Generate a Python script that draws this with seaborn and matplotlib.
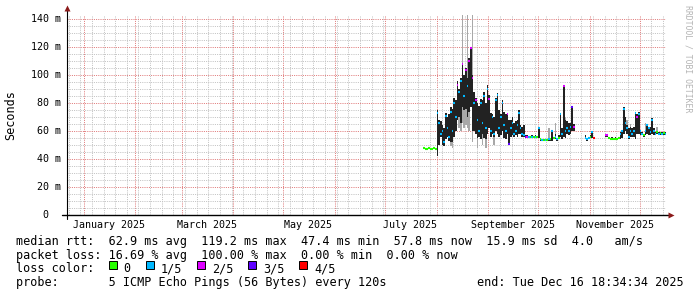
import numpy as np
import pandas as pd
import matplotlib
matplotlib.use('Agg')
import matplotlib.pyplot as plt
import matplotlib.dates as mdates
import matplotlib.transforms as mtrans
from matplotlib.ticker import MultipleLocator
from matplotlib.patches import Rectangle
import seaborn as sns

nan = float('nan')

# ---------------- data (daily, from 2025-07-24) ----------------
data_start = '2025-07-24'
graph_end = '2025-12-16 18:34:34'
graph_days = 360

median_ms = [47.6, 47.4, 47.5, 47.6, 47.4, 47.5, 47.6, 47.5,
             73, 66, 58, 60, 52, 71, 62, 56, 74, 60,
             80, 70, 93, 88, 96, 108, 85, 104, 92, 110,
             119.2, 98, 80, 82, 68, 60, 80, 66, 85, 62,
             90, 83, 60, 70, 58, 82, 86, 62, 70, 80,
             64, 60, 72, 51, 62, 66, 58, 60, 64, 73,
             62, 58, 57, 56, 56, 55.5, 55.5, 56, 55.5, 56,
             55.5, 62, 54, 53.6, 53.6, 53.8, 53.6, 54, 54, 60,
             55, 56, 54, 55, 72, 58, 92, 60, 62, 60,
             63, 77, 63,
             nan, nan, nan, nan, nan, nan,
             55, 54, 55, 56, 59, 55,
             nan, nan, nan, nan, nan, nan,
             57, 57, 55, 54, 54.5, 54, 54.5, 54, 55, 58,
             60, 76, 66, 62, 56, 60, 58, 60, 73, 70,
             72, 60, 58, 57, 60, 64, 62, 59, 68, 60,
             58, 59, 58, 58.5, 58, 58.5, 57.8]

loss = [0, 0, 0, 0, 0, 0, 0, 0,
        1, 1, 1, 1, 1, 1, 1, 1, 1, 1,
        1, 1, 2, 1, 1, 2, 1, 2, 1, 2,
        2, 2, 1, 2, 1, 1, 1, 1, 1, 1,
        1, 2, 1, 1, 1, 1, 1, 1, 1, 1,
        1, 1, 2, 3, 1, 1, 1, 1, 1, 1,
        1, 1, 1, 3, 2, 1, 0, 1, 0, 1,
        0, 1, 0, 1, 0, 1, 0, 1, 0, 1,
        0, 1, 1, 0, 1, 1, 2, 1, 1, 1,
        1, 3, 2,
        nan, nan, nan, nan, nan, nan,
        1, 1, 1, 0, 1, 4,
        nan, nan, nan, nan, nan, nan,
        2, 2, 0, 0, 0, 0, 0, 0, 0, 1,
        1, 1, 1, 1, 1, 1, 1, 1, 1, 2,
        1, 1, 1, 0, 1, 1, 1, 1, 1, 1,
        1, 0, 1, 0, 1, 0, 1]

smoke_lo = [47, 47, 47, 47, 47, 47, 47, 47,
            42, 50, 56, 50, 49, 54, 56, 53, 52, 52,
            56, 60, 68, 70, 66, 77, 75, 76, 70, 74,
            77, 60, 60, 58, 55, 56, 54, 58, 55, 54,
            58, 62, 56, 58, 56, 60, 58, 56, 57, 60,
            55, 54, 58, 50, 56, 57, 56, 57, 56, 58,
            58, 56, 56, 55, 55, 55, 55, 55, 55, 55,
            55, 55, 53, 53, 53, 53, 53, 53, 53, 53,
            54, 54, 53, 54, 56, 54, 56, 55, 58, 57,
            58, 60, 60,
            nan, nan, nan, nan, nan, nan,
            54, 53, 54, 55, 55, 54,
            nan, nan, nan, nan, nan, nan,
            56, 56, 54, 53.5, 53.5, 53.5, 53.5, 53.5, 54, 54,
            55, 58, 60, 58, 54, 56, 56, 56, 54, 58,
            58, 57, 57, 56, 57, 58, 57, 57, 58, 57,
            57, 58, 57, 57.5, 57, 57.5, 57]

smoke_hi = [48, 48, 48, 48, 48, 48, 48, 48,
            75, 68, 67, 64, 62, 73, 70, 72, 77, 76,
            84, 82, 96, 90, 98, 109, 100, 105, 98, 112,
            120, 100, 88, 84, 80, 78, 83, 82, 88, 80,
            93, 86, 73, 72, 70, 84, 87, 75, 72, 82,
            74, 72, 73, 68, 68, 70, 66, 67, 68, 75,
            64, 63, 64, 57, 57, 56.5, 56.5, 57, 56.5, 57,
            56.5, 62.5, 55, 54.5, 54.5, 54.5, 54.5, 55, 55, 61,
            56, 58, 55, 57, 73, 62, 93, 68, 67, 66,
            66, 78, 65,
            nan, nan, nan, nan, nan, nan,
            57, 55, 56, 57, 60, 56,
            nan, nan, nan, nan, nan, nan,
            58, 58, 56, 55, 55.5, 55, 55.5, 55, 56, 59,
            61, 77, 70, 64, 62, 63, 62, 63, 74, 72,
            74, 61, 59, 58, 61, 65, 63, 63, 69, 62,
            59, 60, 59, 59.5, 59, 59.5, 59]

outer_lo = [47, 47, 47, 47, 47, 47, 47, 47,
            42, 50, 56, 50, 49, 54, 56, 53, 49, 48,
            56, 60, 68, 62, 60, 66, 62, 64, 62, 60,
            77, 52, 60, 58, 48, 56, 54, 50, 55, 48,
            58, 62, 56, 58, 50, 60, 58, 56, 57, 60,
            55, 54, 58, 50, 56, 57, 56, 57, 56, 58,
            58, 56, 56, 55, 55, 55, 55, 55, 55, 55,
            55, 55, 53, 53, 53, 53, 53, 53, 53, 53,
            54, 54, 53, 54, 56, 54, 56, 55, 58, 57,
            58, 60, 60,
            nan, nan, nan, nan, nan, nan,
            54, 53, 54, 55, 55, 54,
            nan, nan, nan, nan, nan, nan,
            56, 56, 54, 53.5, 53.5, 53.5, 53.5, 53.5, 54, 54,
            55, 58, 60, 58, 54, 56, 56, 56, 54, 58,
            58, 57, 57, 56, 57, 58, 57, 57, 58, 57,
            57, 58, 57, 57.5, 57, 57.5, 57]

outer_hi = [48, 48, 48, 48, 48, 48, 48, 48,
            75, 68, 67, 64, 62, 73, 70, 72, 77, 76,
            84, 82, 96, 90, 98, 150, 100, 105, 150, 112,
            120, 150, 88, 84, 80, 78, 83, 82, 88, 80,
            93, 86, 73, 72, 70, 84, 87, 75, 72, 82,
            74, 72, 73, 68, 68, 70, 66, 67, 68, 75,
            64, 63, 64, 57, 57, 56.5, 56.5, 57, 56.5, 57,
            56.5, 62.5, 55, 54.5, 54.5, 54.5, 54.5, 62, 55, 61,
            56, 66, 55, 57, 73, 62, 93, 70, 67, 66,
            66, 78, 65,
            nan, nan, nan, nan, nan, nan,
            57, 55, 56, 57, 60, 56,
            nan, nan, nan, nan, nan, nan,
            58, 58, 56, 55, 55.5, 55, 55.5, 55, 56, 59,
            61, 77, 70, 68, 62, 65, 62, 63, 74, 72,
            74, 61, 59, 58, 66, 65, 63, 63, 69, 62,
            59, 63, 59, 59.5, 59, 59.5, 59]

loss_labels = ['0', '1/5', '2/5', '3/5', '4/5']
loss_colors = ['#26ff00', '#00b8ff', '#dd00ff', '#5e00ff', '#ff0000']

y_ticks = [0, 20, 40, 60, 80, 100, 120, 140]
x_labels = ['January 2025', 'March 2025', 'May 2025', 'July 2025',
            'September 2025', 'November 2025']
x_label_dates = ['2025-01-16', '2025-03-16', '2025-05-16', '2025-07-16',
                 '2025-09-16', '2025-11-16']

legend_lines = [
    'median rtt:  62.9 ms avg  119.2 ms max  47.4 ms min  57.8 ms now  15.9 ms sd  4.0   am/s',
    'packet loss: 16.69 % avg  100.00 % max  0.00 % min  0.00 % now',
    'loss color:',
    'probe:       5 ICMP Echo Pings (56 Bytes) every 120s',
]
end_text = 'end: Tue Dec 16 18:34:34 2025'
y_title = 'Seconds'
watermark = 'RRDTOOL / TOBI OETIKER'

# ---------------- figure ----------------
sns.set_theme(style='white')
plt.rcParams['font.family'] = ['DejaVu Sans Mono', 'DejaVu Sans']

W, H = 697, 297
fig = plt.figure(figsize=(W / 100, H / 100), dpi=100)
fig.patch.set_facecolor('white')
L, R, T, B = 66.5, 666, 15, 215
ax = fig.add_axes([L / W, 1 - B / H, (R - L) / W, (B - T) / H])
ax.set_facecolor('white')

end = pd.Timestamp(graph_end)
start = end - pd.Timedelta(days=graph_days)

days = pd.date_range(data_start, periods=len(median_ms) + 1, freq='D')


def steps(vals):
    xs, ys = [], []
    for i, v in enumerate(vals):
        xs += [days[i], days[i + 1]]
        ys += [v, v]
    return mdates.date2num(xs), np.array(ys, float)


xs, olo = steps(outer_lo)
_, ohi = steps(outer_hi)
_, slo = steps(smoke_lo)
_, shi = steps(smoke_hi)
ax.fill_between(xs, olo, ohi, color='#a8a8a8', linewidth=0, zorder=2)
ax.fill_between(xs, slo, shi, color='#222222', linewidth=0, zorder=3)

rows = []
for i, (m, l) in enumerate(zip(median_ms, loss)):
    if np.isnan(m):
        continue
    lab = loss_labels[int(l)]
    rows.append({'t': days[i], 'ms': m, 'seg': i, 'loss': lab})
    rows.append({'t': days[i + 1], 'ms': m, 'seg': i, 'loss': lab})
df = pd.DataFrame(rows)
sns.lineplot(data=df, x='t', y='ms', hue='loss', units='seg', estimator=None,
             palette=dict(zip(loss_labels, loss_colors)), legend=False,
             linewidth=1.5, solid_capstyle='butt', ax=ax, zorder=4)
ax.set_xlim(start, end)
ax.set_ylim(0, 143)

# grid (dotted, rrdtool style)
ax.xaxis.set_major_locator(mdates.MonthLocator())
ax.xaxis.set_minor_locator(mdates.WeekdayLocator(byweekday=mdates.MO))
ax.yaxis.set_major_locator(MultipleLocator(20))
ax.yaxis.set_minor_locator(MultipleLocator(5))
ax.grid(which='minor', color='#c2c2c2', linewidth=0.72,
        linestyle=(0, (1, 1.2)), snap=True)
ax.grid(which='major', color='#e07a7a', linewidth=0.72,
        linestyle=(0, (1, 1.2)), snap=True)
ax.set_axisbelow(True)
ax.tick_params(which='both', length=0, labelbottom=False, labelleft=False)
ax.set_xlabel('')
ax.set_ylabel('')
for s in ax.spines.values():
    s.set_visible(False)

# axis lines + arrows
wpx = R - L
hpx = B - T
ax.plot([-5 / wpx, (671 - L) / wpx], [0, 0], transform=ax.transAxes,
        color='black', lw=1.0, clip_on=False, zorder=6)
ax.plot([0, 0], [-4 / hpx, (B - 9) / hpx], transform=ax.transAxes,
        color='black', lw=0.8, clip_on=False, zorder=6)
ax.plot([(671 - L) / wpx], [0], marker='>', ms=4.5, color='#8b1a1a',
        transform=ax.transAxes, clip_on=False, zorder=7, mec='none')
ax.plot([0], [(B - 8) / hpx], marker='^', ms=4.5, color='#8b1a1a',
        transform=ax.transAxes, clip_on=False, zorder=7, mec='none')

# tick labels
ytr = mtrans.blended_transform_factory(fig.transFigure, ax.transData)
for v in y_ticks:
    if v:
        ax.text(60.5 / W, v, f'{v} m', transform=ytr, ha='right', va='center',
                fontsize=7.2, color='black')
    else:
        ax.text(48.5 / W, v, '0', transform=ytr, ha='right', va='center',
                fontsize=7.2, color='black')
xtr = mtrans.blended_transform_factory(ax.transData, fig.transFigure)
for lab, d in zip(x_labels, x_label_dates):
    ax.text(mdates.date2num(pd.Timestamp(d)), 1 - 225 / H, lab, transform=xtr,
            ha='center', va='center', fontsize=7.2, color='black')

fig.text(11 / W, 1 - 115 / H, y_title, rotation=90, ha='center', va='center',
         fontsize=8.5, color='black')
fig.text(688 / W, 1 - 59 / H, watermark, rotation=270, ha='center', va='center',
         fontsize=5.9, color='#b4b4b4')

# legend
base = [245, 259, 272.5, 286]
cw = 7.1
x0 = 15.5
for line, yb in zip(legend_lines, base):
    fig.text(x0 / W, 1 - yb / H, line, ha='left', va='baseline', fontsize=8.5,
             color='black')
fig.text(x0 / W + 65 * cw / W, 1 - base[3] / H, end_text, ha='left',
         va='baseline', fontsize=8.5, color='black')
label_x = [123.5, 160.5, 211.7, 262.9, 314.1]
for lx, lab, c in zip(label_x, loss_labels, loss_colors):
    fig.patches.append(Rectangle(((lx - 15) / W, 1 - 269 / H), 8 / W, 8 / H,
                                 transform=fig.transFigure, facecolor=c,
                                 edgecolor='black', linewidth=0.7))
    fig.text(lx / W, 1 - base[2] / H, lab, ha='left', va='baseline',
             fontsize=8.5, color='black')

fig.savefig('out.png', dpi=100, facecolor='white')
